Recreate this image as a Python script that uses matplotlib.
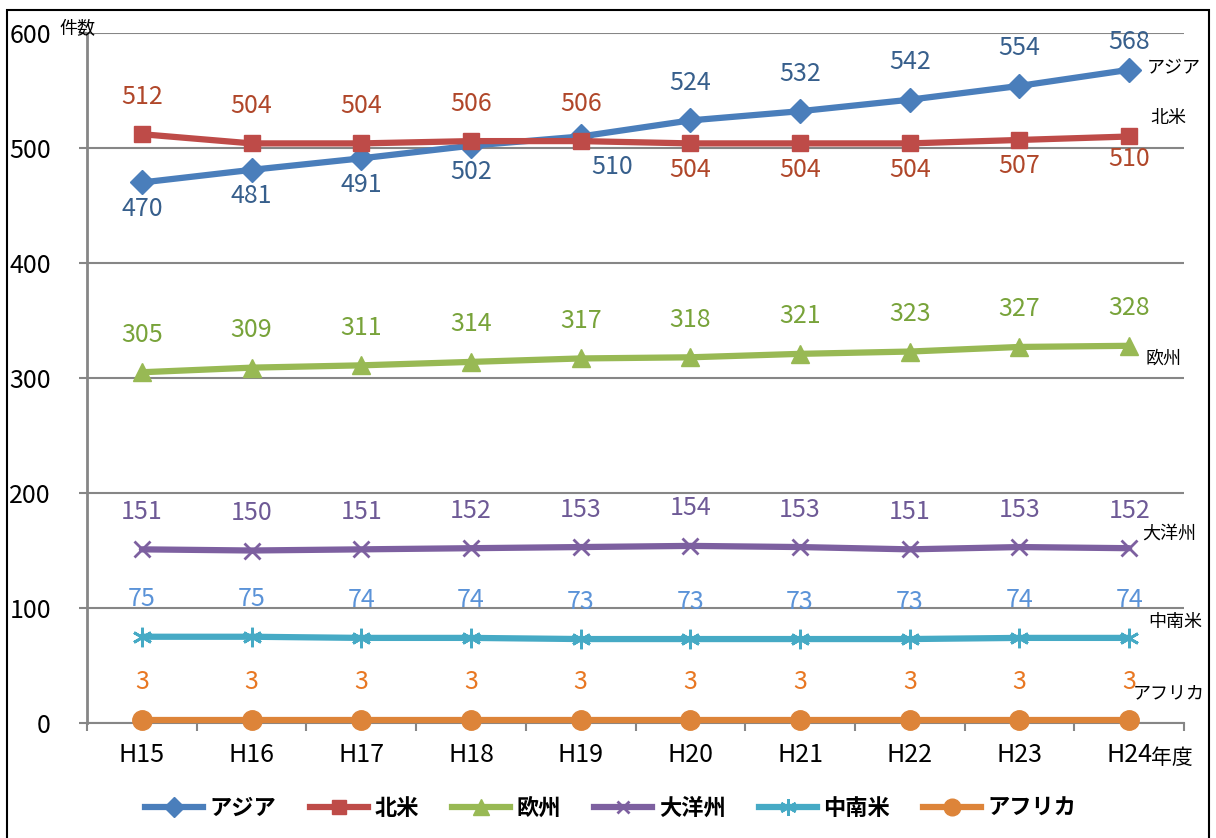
import matplotlib
matplotlib.use("Agg")
import matplotlib.pyplot as plt
from matplotlib.lines import Line2D
from matplotlib.patches import Rectangle

plt.rcParams['font.family'] = ['Noto Sans CJK JP', 'DejaVu Sans']

years = ['H15', 'H16', 'H17', 'H18', 'H19', 'H20', 'H21', 'H22', 'H23', 'H24']
regions = ['アジア', '北米', '欧州', '大洋州', '中南米', 'アフリカ']
asia = [470, 481, 491, 502, 510, 524, 532, 542, 554, 568]
north_america = [512, 504, 504, 506, 506, 504, 504, 504, 507, 510]
europe = [305, 309, 311, 314, 317, 318, 321, 323, 327, 328]
oceania = [151, 150, 151, 152, 153, 154, 153, 151, 153, 152]
latin_america = [75, 75, 74, 74, 73, 73, 73, 73, 74, 74]
africa = [3, 3, 3, 3, 3, 3, 3, 3, 3, 3]
series = [asia, north_america, europe, oceania, latin_america, africa]

# styling
line_colors = ['#4A7EBB', '#BE4B48', '#98B954', '#7D60A0', '#46AAC5', '#DD8439']
label_colors = ['#375F8C', '#B0472A', '#78A33A', '#6E5A96', '#5B93D8', '#E87722']
markers = ['D', 's', '^', 'x', (6, 2, 0), 'o']
msizes = [12, 12, 13, 11, 14, 14]

# label offsets in points (dx, dy)
up = (0, 27)
down = (0, -19)
label_offsets = [
    [down, down, down, down, (23, -22), up, up, up, up, (0, 20)],
    [up, up, up, up, up, down, down, down, down, (0, -16)],
    [up] * 10, [up] * 10, [up] * 10, [up] * 10,
]
# series names at right end (x in category units, y in data units)
end_pos = [(9.16, 570), (9.19, 526), (9.15, 317), (9.12, 165), (9.17, 88), (9.03, 26)]

fig = plt.figure(figsize=(12.16, 8.38), dpi=100)
fig.add_artist(Rectangle((7 / 1216, -0.05), 1202 / 1216, 1.05 - 10 / 838,
                         transform=fig.transFigure, fill=False, ec='black', lw=1.5))
ax = fig.add_axes([87 / 1216, 115 / 838, 1097 / 1216, 690 / 838])

x = list(range(len(years)))
handles = []
for i, vals in enumerate(series):
    mk = markers[i]
    filled = mk != 'x' and not isinstance(mk, tuple)
    ax.plot(x, vals, color=line_colors[i], lw=4.5, marker=mk, ms=msizes[i],
            mew=1 if filled else 2, mec=line_colors[i], mfc=line_colors[i],
            solid_capstyle='round', zorder=3, clip_on=False)
    handles.append(Line2D([], [], color=line_colors[i], lw=4.5, marker=mk, ms=msizes[i] - 2,
                          mew=1 if filled else 2, mec=line_colors[i], mfc=line_colors[i]))
    for j, v in enumerate(vals):
        ax.annotate(str(v), (j, v), xytext=label_offsets[i][j], textcoords='offset points',
                    ha='center', va='center', fontsize=18, color=label_colors[i], zorder=4)
    ex, ey = end_pos[i]
    ax.text(ex, ey, regions[i], fontsize=13, ha='left', va='center', clip_on=False)

ax.set_xlim(-0.5, 9.5)
ax.set_ylim(0, 600)
ax.set_yticks(range(0, 601, 100))
ax.set_xticks(x)
ax.set_xticklabels(years)
ax.set_xticks([k + 0.5 for k in range(-1, 10)], minor=True)
ax.tick_params(axis='x', which='major', length=0, pad=14, labelsize=18)
ax.tick_params(axis='x', which='minor', length=6, width=1.5, color='#868686')
ax.tick_params(axis='y', length=6, width=1.5, color='#868686', labelsize=18, pad=20)
ax.grid(axis='y', color='#868686', lw=1.5)
ax.set_axisbelow(True)
for s in ['top', 'right']:
    ax.spines[s].set_visible(False)
ax.spines['left'].set_color('#868686')
ax.spines['left'].set_linewidth(2)
ax.spines['bottom'].set_color('#868686')
ax.spines['bottom'].set_linewidth(1.5)

ax.text(-0.75, 603, '件数', fontsize=13, ha='left', va='center', clip_on=False)
ax.text(9.2, -30, '年度', fontsize=15, ha='left', va='center', clip_on=False)

fig.legend(handles, regions, loc='center', bbox_to_anchor=(611 / 1216, 30 / 838), ncol=6,
           frameon=False, handlelength=2.6, handletextpad=0.3, columnspacing=1.5,
           prop={'size': 16, 'weight': 'bold'})

fig.savefig('out.png', dpi=100)
